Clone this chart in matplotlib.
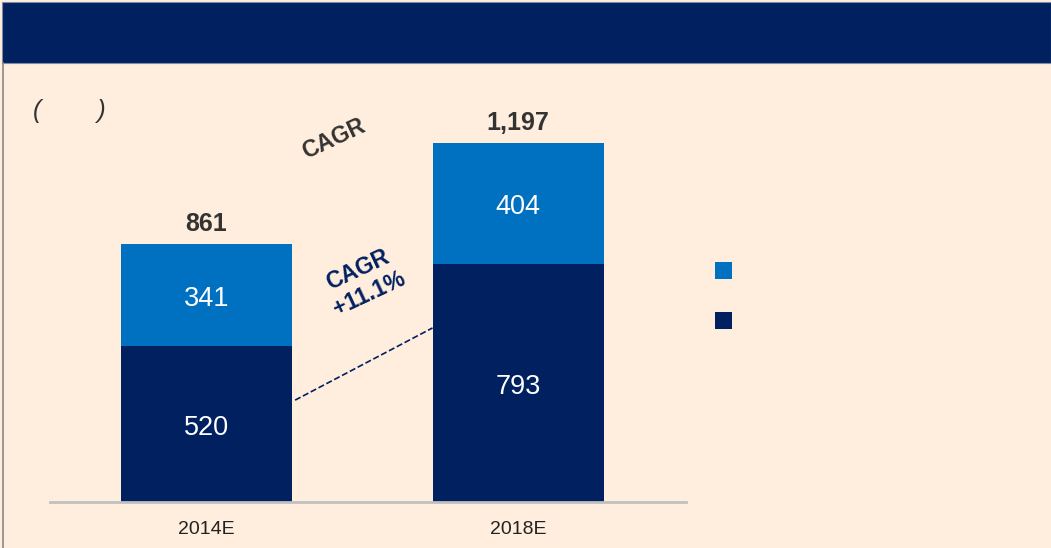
import matplotlib.pyplot as plt
from matplotlib.patches import Rectangle
from matplotlib.lines import Line2D

plt.rcParams['font.family'] = ['Liberation Sans', 'DejaVu Sans']

# data
years = ["2014E", "2018E"]
bottom_vals = [520, 793]
top_vals = [341, 404]
totals = [861, 1197]
cagr_label = "CAGR\n+11.1%"

navy = "#002060"
blue = "#0070C0"
bg = "#FFEEDD"

W, H = 1051, 548
fig = plt.figure(figsize=(W / 100, H / 100), dpi=100, facecolor=bg)

def fx(px):
    return px / W

def fy(py):
    return 1 - py / H

# header banner and left border
fig.patches.append(Rectangle((fx(2), fy(63)), fx(1049), 61 / H, transform=fig.transFigure,
                             facecolor=navy, edgecolor="#7f8aa8", lw=0.8, zorder=0))
fig.lines.append(Line2D([fx(3), fx(3)], [0, fy(63)], transform=fig.transFigure,
                        color="#888888", lw=1.2))

ax = fig.add_axes([fx(50), fy(502), fx(636), 432 / H])
ax.set_facecolor(bg)
x = [0, 1]
w = 0.549
ax.bar(x, bottom_vals, w, color=navy, zorder=2)
ax.bar(x, top_vals, w, bottom=bottom_vals, color=blue, zorder=2)
ax.set_xlim(-0.502, 1.539)
ax.set_ylim(0, 1442)

for i in x:
    # segment labels, centred on cap height
    ax.annotate(str(bottom_vals[i]), (i, bottom_vals[i] / 2), xytext=(0, -7.5),
                textcoords="offset points", ha="center", va="baseline",
                color="white", fontsize=19.5)
    ax.annotate(str(top_vals[i]), (i, bottom_vals[i] + top_vals[i] / 2), xytext=(0, -7.5),
                textcoords="offset points", ha="center", va="baseline",
                color="white", fontsize=19.5)
    ax.annotate(f"{totals[i]:,}", (i, totals[i]), xytext=(0, 9.5), textcoords="offset points",
                ha="center", va="baseline", fontsize=18, fontweight="bold", color="#333333")

# dashed CAGR line between bars
ax.plot([w / 2 + 0.01, 1 - w / 2], [340, 581], ls="--", color=navy, lw=1.2, zorder=3)
ax.text(0.505, 735, cagr_label, ha="center", va="center", rotation=25, fontsize=16.5,
        fontweight="bold", color=navy, linespacing=1.2)
ax.text(0.41, 1212, "CAGR", ha="center", va="center", rotation=25, fontsize=16.5,
        fontweight="bold", color="#333333")

ax.set_xticks(x)
ax.set_xticklabels(years, fontsize=14)
ax.tick_params(axis="x", length=0, pad=14, colors="#222222")
ax.set_yticks([])
for s in ["top", "right", "left"]:
    ax.spines[s].set_visible(False)
ax.spines["bottom"].set_color("#c0c0c0")
ax.spines["bottom"].set_linewidth(2)

# unit label
fig.text(fx(33), fy(111), "(        )", fontsize=18, style="italic", color="#333333",
         va="center", ha="left")

# legend markers
for yy, c in [(271, blue), (321, navy)]:
    fig.patches.append(Rectangle((fx(715), fy(yy + 8)), fx(17), 17 / H,
                                 transform=fig.transFigure, facecolor=c, edgecolor="none"))

fig.savefig("out.png", dpi=100, facecolor=bg)
